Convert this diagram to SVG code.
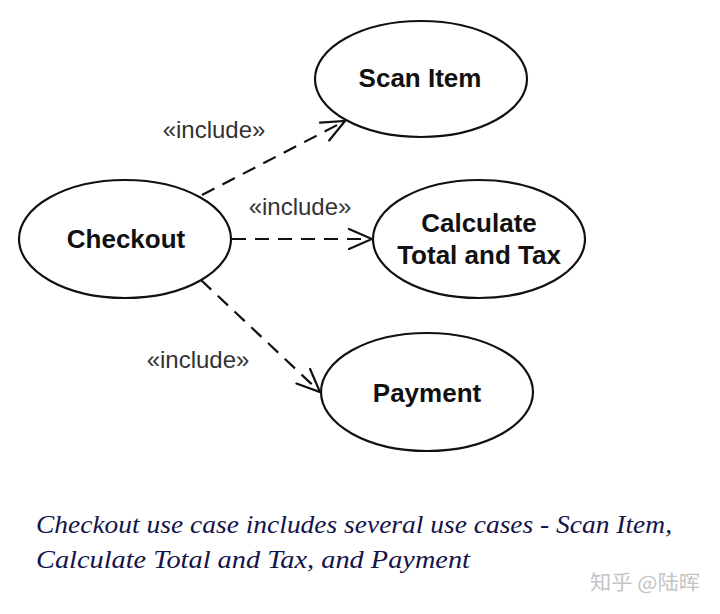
<svg xmlns="http://www.w3.org/2000/svg" width="720" height="614" viewBox="0 0 720 614">
<style>
.uc{fill:#fff;stroke:#111;stroke-width:2.2}
.nt{font-family:"Liberation Sans",Arial,sans-serif;font-weight:bold;font-size:26px;fill:#111;text-anchor:middle}
.lbl{font-family:"Liberation Sans",Arial,sans-serif;font-size:24px;fill:#333;text-anchor:middle}
.dep{stroke:#111;stroke-width:2.2;stroke-dasharray:14 9;fill:none;marker-end:url(#open)}
.cap{font-family:"Liberation Serif","Times New Roman",serif;font-style:italic;font-size:26px;fill:#14144a}
.wm{font-family:"Noto Sans CJK SC","Noto Sans",sans-serif;font-size:20px;fill:#c4c4c4}
</style>
<defs>
<marker id="open" markerUnits="userSpaceOnUse" viewBox="-26 -13 28 26" refX="0" refY="0" markerWidth="28" markerHeight="26" orient="auto">
<path d="M-23,-10 L0,0 L-23,10" fill="none" stroke="#111" stroke-width="2.2" stroke-linecap="round" stroke-linejoin="miter"/>
</marker>
</defs>
<rect width="720" height="614" fill="#fff"/>
<g id="connectors">
<line class="dep" x1="202" y1="195" x2="345" y2="121"/>
<line class="dep" x1="232" y1="239" x2="372" y2="239"/>
<line class="dep" x1="201" y1="280" x2="320" y2="392"/>
<text class="lbl" x="214" y="138">«include»</text>
<text class="lbl" x="300" y="215">«include»</text>
<text class="lbl" x="198" y="368">«include»</text>
</g>
<g id="checkout">
<ellipse class="uc" cx="125" cy="239" rx="106" ry="59"/>
<text class="nt" x="126" y="248">Checkout</text>
</g>
<g id="scan-item">
<ellipse class="uc" cx="421" cy="79" rx="106" ry="58"/>
<text class="nt" x="420" y="87">Scan Item</text>
</g>
<g id="calculate">
<ellipse class="uc" cx="479" cy="239" rx="106" ry="59"/>
<text class="nt" x="479" y="232">Calculate</text>
<text class="nt" x="479" y="264">Total and Tax</text>
</g>
<g id="payment">
<ellipse class="uc" cx="427" cy="392" rx="106" ry="59"/>
<text class="nt" x="427" y="402">Payment</text>
</g>
<g id="caption">
<text class="cap" x="36" y="533" textLength="636" lengthAdjust="spacingAndGlyphs">Checkout use case includes several use cases - Scan Item,</text>
<text class="cap" x="36" y="568" textLength="434" lengthAdjust="spacingAndGlyphs">Calculate Total and Tax, and Payment</text>
</g>
<text class="wm" x="590" y="590" textLength="110" lengthAdjust="spacingAndGlyphs">知乎 @陆晖</text>
</svg>
